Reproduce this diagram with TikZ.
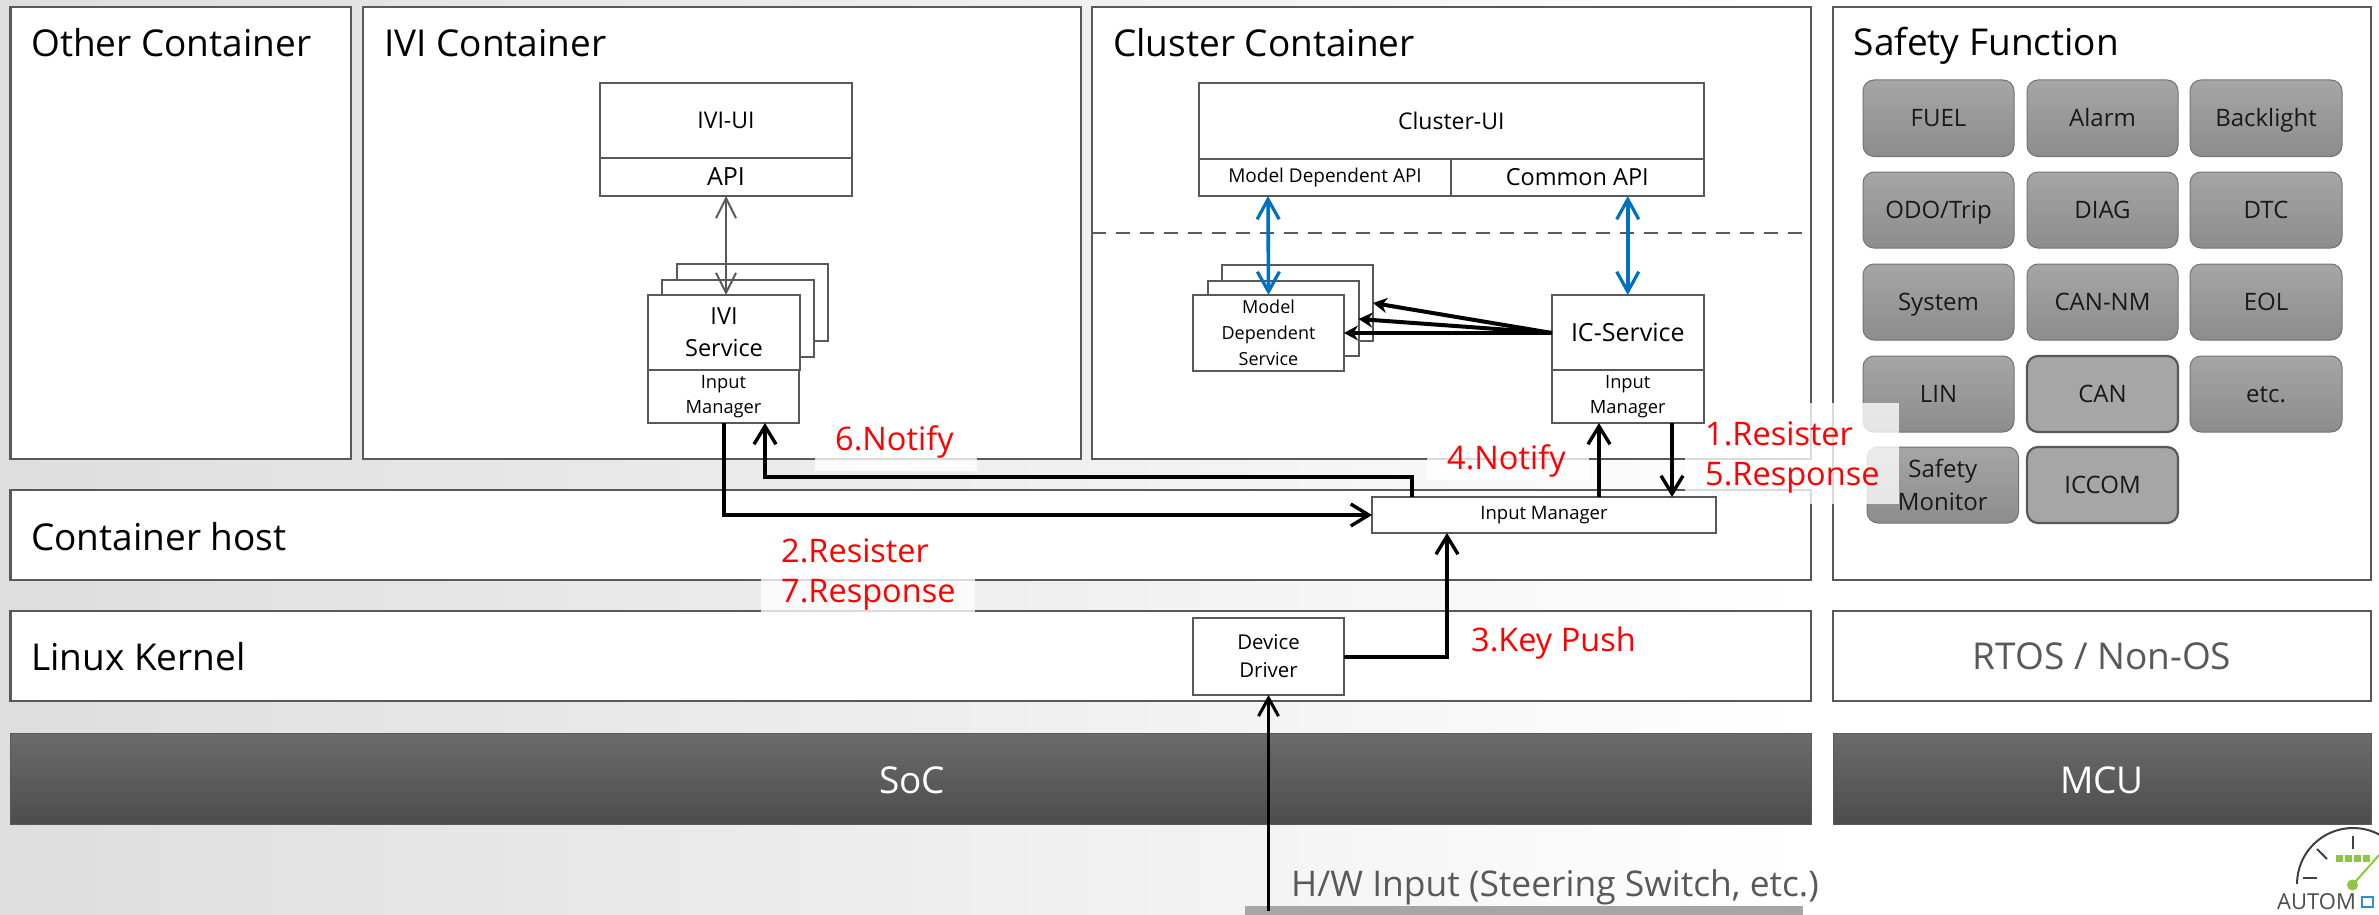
\documentclass[tikz,border=0pt]{standalone}
\usepackage{fontspec}
\setmainfont{Open Sans}
\usetikzlibrary{arrows.meta,calc}
\definecolor{edge}{HTML}{595959}
\definecolor{bluearrow}{HTML}{0070C0}
\definecolor{logogreen}{HTML}{8DC63F}
\definecolor{logoblue}{HTML}{2F8FC9}
\newcommand{\fsz}[1]{\fontsize{#1}{#1}\selectfont}
\newcommand{\fszl}[2]{\fontsize{#1}{#2}\selectfont}
\pgfdeclarehorizontalshading{bgshade}{100bp}{color(0bp)=(black!13); color(25bp)=(black!13); color(50bp)=(black!5); color(63bp)=(white); color(100bp)=(white)}
% \bx[style]{name}{x1}{y1}{x2}{y2}{text}
\newcommand{\bx}[7][plain]{%
  \pgfmathsetlengthmacro{\bxw}{#5-#3}\pgfmathsetlengthmacro{\bxh}{#6-#4}%
  \node[#1,minimum width=\bxw,minimum height=\bxh] (#2) at ({(#3+#5)/2},{(#4+#6)/2}) {#7};}
\tikzset{
  plain/.style={draw=edge,line width=2.4pt,fill=white,inner sep=0pt,outer sep=0pt,align=center,text=black,font=\fsz{23}},
  thin box/.style={plain,line width=2pt},
  chip/.style={rectangle,rounded corners=11pt,draw=black!55,line width=1pt,inner sep=0pt,outer sep=0pt,top color=black!35,bottom color=black!45},
  chipflat/.style={rectangle,rounded corners=11pt,draw=edge,line width=2.2pt,inner sep=0pt,outer sep=0pt,fill=black!35},
  dark/.style={draw=black!65,line width=1pt,inner sep=0pt,outer sep=0pt,top color=black!58,bottom color=black!70,text=white,align=center},
  title/.style={anchor=west,inner sep=0pt,text=black,font=\fsz{37},text height=27pt,text depth=0pt},
  bigtext/.style={inner sep=0pt,font=\fsz{37},text height=27pt,text depth=0pt},
  chiplabel/.style={inner sep=0pt,align=center,text=black!90,font=\fsz{24},text height=17pt,text depth=0pt},
  chiptwo/.style={inner sep=0pt,align=center,text=black!90,font=\fszl{24}{33}},
  redlabel/.style={anchor=west,inner sep=0pt,text=red,font=\fsz{32.5},text height=24pt,text depth=0pt},
  veil/.style={fill=white,fill opacity=0.78,draw=none},
  flow/.style={draw=black,line width=4pt,-{Straight Barb[length=18pt,width=22pt,line width=3.4pt]}},
  flowthin/.style={draw=black,line width=3pt,-{Straight Barb[length=18pt,width=20pt,line width=3pt]}},
  fan/.style={draw=black,line width=4pt,-{Stealth[length=14pt,width=15pt]}},
  bluelink/.style={draw=bluearrow,line width=3.6pt,{Straight Barb[length=20pt,width=22pt,line width=3.2pt]}-{Straight Barb[length=20pt,width=22pt,line width=3.2pt]}},
  greylink/.style={draw=edge,line width=2pt,{Straight Barb[length=20pt,width=20pt,line width=2pt]}-{Straight Barb[length=20pt,width=20pt,line width=2pt]}},
}
\begin{document}
\begin{tikzpicture}[x=1pt,y=-1pt]
\useasboundingbox (0,0) rectangle (2379,915);
\shade[shading=bgshade] (0,0) rectangle (2379,915);
% bottom bar
\node[fill=black!35,draw=none,minimum width=558pt,minimum height=14pt,inner sep=0pt] (hwbar) at (1524,913) {};
% containers
\bx{other}{10.5}{7}{351}{459}{}
\bx{ivi}{363}{7}{1081}{459}{}
\bx{cluster}{1092}{7}{1811}{459}{}
\bx{safety}{1833}{7}{2371}{580}{}
\bx{host}{10.5}{490}{1811}{580}{}
\bx{kernel}{10.5}{611}{1811}{701}{}
\bx{rtos}{1833}{611}{2371}{701}{}
\bx[dark]{soc}{10.5}{733}{1811}{824}{}
\bx[dark]{mcu}{1833}{733}{2371}{824}{}
\coordinate (dashL) at (cluster.west |- 0,232.5);
\coordinate (dashR) at (cluster.east |- 0,232.5);
\draw[edge,line width=2pt,dash pattern=on 14pt off 10pt] (dashL) -- (dashR);
% safety chips
\bx[chip]{fuel}{1863}{80}{2014}{156.5}{}
\bx[chip]{alarm}{2027}{80}{2178}{156.5}{}
\bx[chip]{back}{2190}{80}{2342}{156.5}{}
\bx[chip]{odo}{1863}{172}{2014}{248}{}
\bx[chip]{diag}{2027}{172}{2178}{248}{}
\bx[chip]{dtc}{2190}{172}{2342}{248}{}
\bx[chip]{sys}{1863}{264}{2014}{340}{}
\bx[chip]{cannm}{2027}{264}{2178}{340}{}
\bx[chip]{eol}{2190}{264}{2342}{340}{}
\bx[chip]{lin}{1863}{356}{2014}{432}{}
\bx[chipflat]{can}{2027}{356}{2178}{432}{}
\bx[chip]{etc}{2190}{356}{2342}{432}{}
\bx[chip]{mon}{1867}{447}{2018.5}{523}{}
\bx[chipflat]{iccom}{2027}{447}{2178}{523}{}
% translucent label backings
\fill[veil] (1685,403) rectangle (1899,504);
\fill[veil] (1427,435) rectangle (1589,480);
\fill[veil] (815,425) rectangle (977,471);
\fill[veil] (761,530) rectangle (975,612);
% IVI
\bx[thin box]{iviui}{600}{83}{852}{158}{IVI-UI}
\bx[thin box,font=\fsz{25}]{iviapi}{600}{158}{852}{196}{API}
\bx[thin box]{ivis3}{677}{264}{828}{341}{}
\bx[thin box]{ivis2}{662}{280}{814}{357}{}
\bx[thin box,font=\fszl{23.5}{32}]{ivis1}{648}{295}{800}{370}{IVI\\Service}
\bx[thin box,font=\fszl{18.3}{25.5}]{ivim}{648}{370}{799}{423}{Input\\Manager}
% Cluster
\bx[thin box]{clui}{1199}{83.5}{1703.5}{159}{Cluster-UI}
\bx[thin box,font=\fsz{19}]{mdapi}{1199}{159}{1451}{196}{Model Dependent API}
\bx[thin box,font=\fsz{23.5}]{capi}{1451}{159}{1703.5}{196}{Common API}
\bx[thin box]{mds3}{1222}{265}{1373}{341}{}
\bx[thin box]{mds2}{1207.5}{281}{1358.5}{356}{}
\bx[thin box,font=\fszl{18}{26}]{mds1}{1193}{295}{1344}{371}{Model\\Dependent\\Service}
\bx[thin box,font=\fsz{25}]{ics}{1552}{295}{1703.5}{370}{IC-Service}
\bx[thin box,font=\fszl{18.3}{25.5}]{icm}{1552}{370}{1703.5}{423}{Input\\Manager}
% host / driver
\bx[thin box,font=\fsz{18.5}]{him}{1372}{497}{1716}{533}{Input Manager}
\bx[thin box,font=\fszl{20.4}{28}]{dd}{1193}{618}{1344}{695}{Device\\Driver}
% connectors
\draw[greylink] (iviapi.south) -- (ivis1.north -| iviapi.south);
\draw[bluelink] ($(mdapi.south west)+(69,0)$) -- (mds1.north);
\draw[bluelink] (ics.north |- capi.south) -- (ics.north);
\draw[fan] (ics.west |- 0,333) -- (mds1.east |- 0,333);
\draw[fan] (ics.west |- 0,333) -- (mds2.east |- 0,319);
\draw[fan] (ics.west |- 0,333) -- (mds3.east |- 0,303);
\draw[flow] (ivim.south) |- (him.west);
\draw[flow] ($(him.north west)+(40,0)$) |- (765,476.5) -- ($(ivim.south west)+(117,0)$);
\draw[flow] ($(him.north west)+(227,0)$) -- ($(icm.south west)+(47,0)$);
\draw[flow] ($(icm.south west)+(120,0)$) -- ($(him.north west)+(300,0)$);
\draw[flow] (dd.east) -| (him.south -| 1447,0);
\draw[flowthin] ($(hwbar.north -| dd.south)+(0,5)$) -- (dd.south);
% chip labels
\node[chiplabel] at (fuel) {FUEL};
\node[chiplabel] at (alarm) {Alarm};
\node[chiplabel] at (back) {Backlight};
\node[chiplabel] at (odo) {ODO/Trip};
\node[chiplabel] at (diag) {DIAG};
\node[chiplabel] at (dtc) {DTC};
\node[chiplabel] at (sys) {System};
\node[chiplabel] at (cannm) {CAN-NM};
\node[chiplabel] at (eol) {EOL};
\node[chiplabel] at (lin) {LIN};
\node[chiplabel] at (can) {CAN};
\node[chiplabel] at (etc) {etc.};
\node[chiptwo] at (mon) {Safety\\Monitor};
\node[chiplabel] at (iccom) {ICCOM};
% titles
\node[title] (t1) at (31,43) {Other Container};
\node[title] (t2) at (384,43) {IVI Container};
\node[title] (t3) at (1113,43) {Cluster Container};
\node[title] (t4) at (1853.5,42) {Safety Function};
\node[title] (t5) at (31,537) {Container host};
\node[title] (t6) at (31,657) {Linux Kernel};
\node[bigtext,text=edge] (t7) at (2102,656) {RTOS / Non-OS};
\node[bigtext,text=white] (t8) at (912,780) {SoC};
\node[bigtext,text=white] (t9) at (2102,780) {MCU};
\node[anchor=west,bigtext,font=\fsz{35.4},text=edge] (t10) at (1291,883) {H/W Input (Steering Switch, etc.)};
% step labels
\node[redlabel] (r1) at (1705,433) {1.Resister};
\node[redlabel] (r5) at (1705,473) {5.Response};
\node[redlabel] (r4) at (1447,457) {4.Notify};
\node[redlabel] (r6) at (835,438) {6.Notify};
\node[redlabel] (r2) at (781,550) {2.Resister};
\node[redlabel] (r7) at (781,590) {7.Response};
\node[redlabel] (r3) at (1471,639) {3.Key Push};
% logo
\draw[black!75,line width=2pt] (2297,884) arc[start angle=180,end angle=300,radius=56];
\draw[black!75,line width=2pt] (2303,878) -- (2317,878);
\draw[black!75,line width=2pt] (2317,849) -- (2327,859);
\draw[black!75,line width=2pt] (2352.5,836) -- (2352.5,849);
\foreach \lx in {2335.5,2344.5,2353.5,2362.5}
  \fill[logogreen] (\lx,854.5) rectangle ++(7.5,7.5);
\fill[logogreen] (2352.5,885) circle (5.5pt);
\draw[logogreen,line width=2pt] (2352.5,885) -- (2379,855);
\node[anchor=west,inner sep=0pt,text=black!70,font=\fsz{22}] (logo) at (2277,902) {AUTOM};
\draw[logoblue,line width=2.5pt] (2362,897) rectangle (2373,907);
\end{tikzpicture}
\end{document}
